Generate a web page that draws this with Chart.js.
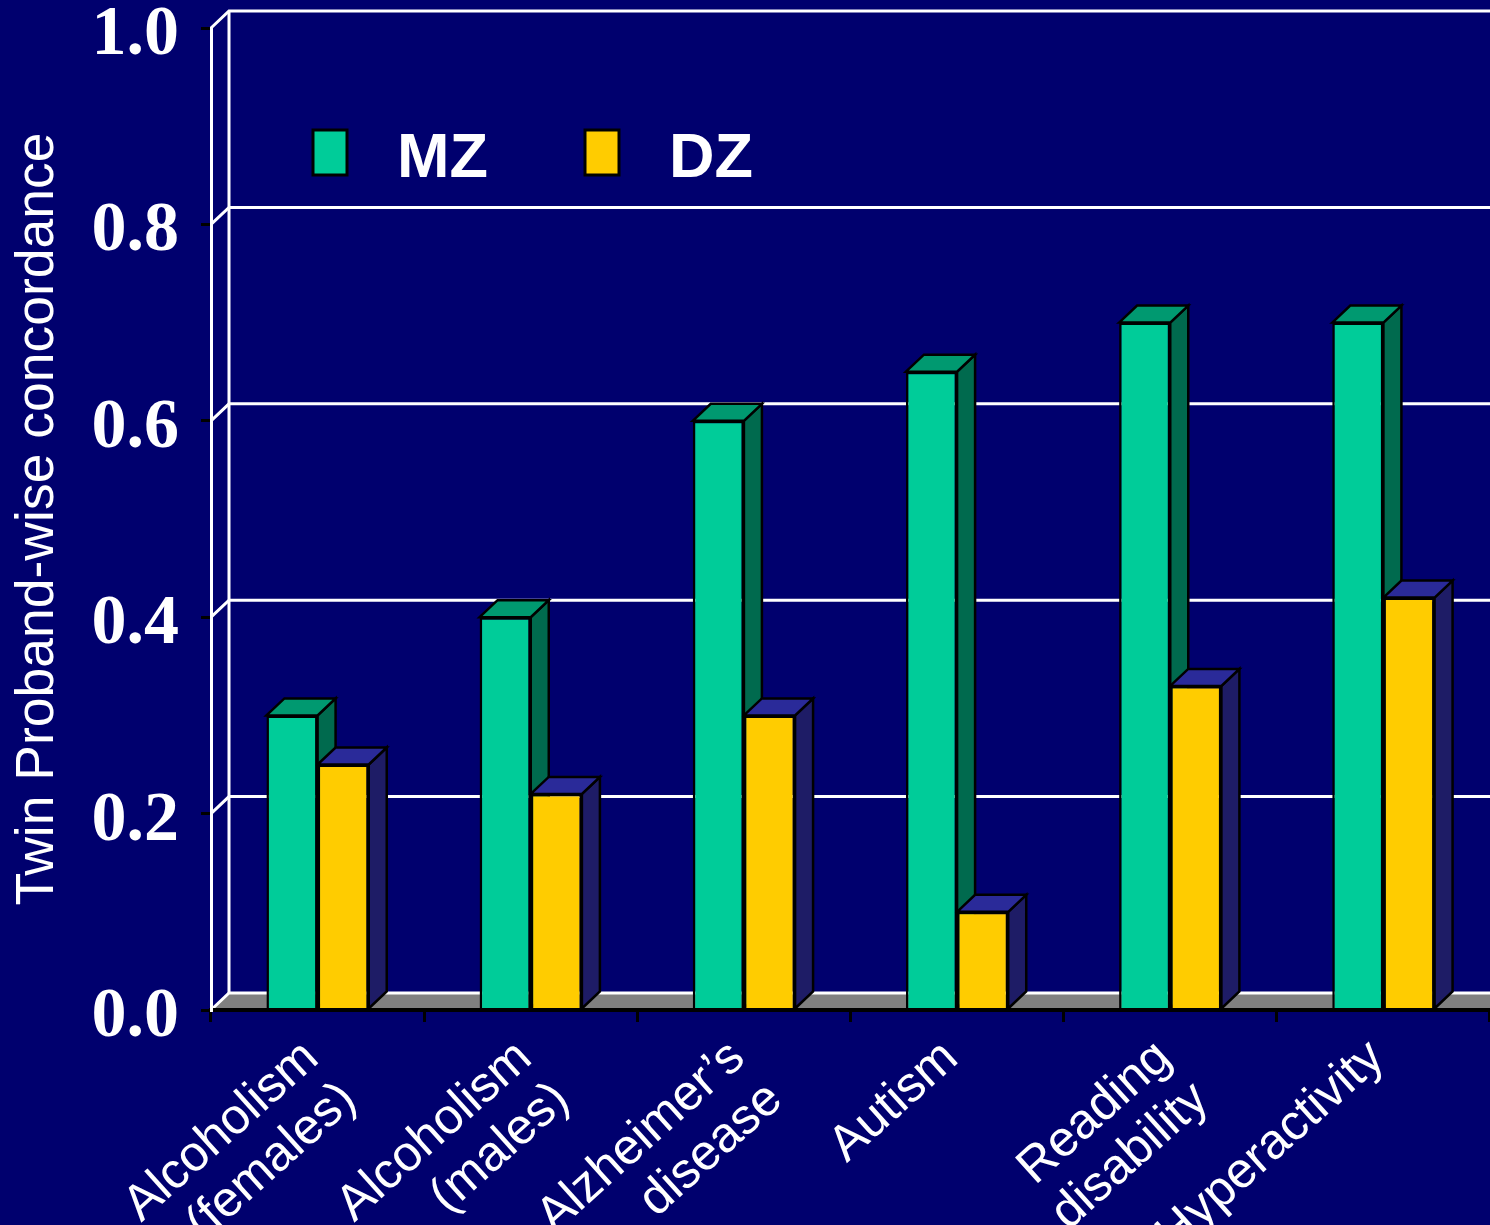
<!DOCTYPE html>
<html>
<head>
<meta charset="utf-8">
<script src="https://cdn.jsdelivr.net/npm/chart.js@4/dist/chart.umd.min.js"></script>
<style>
    html, body { margin: 0; padding: 0; background: #00006e; }
    #wrap { width: 1490px; height: 1225px; }
</style>
</head>
<body>
<div id="wrap"><canvas id="grafico"></canvas></div>
<script>
// dados
const categorias = [['Alcoholism', '(females)'], ['Alcoholism', '(males)'], ['Alzheimer’s', 'disease'], 'Autism', ['Reading', 'disability'], 'Hyperactivity'];
const valoresMZ = [0.30, 0.40, 0.60, 0.65, 0.70, 0.70];
const valoresDZ = [0.25, 0.22, 0.30, 0.10, 0.33, 0.42];
const ticksY = [0.0, 0.2, 0.4, 0.6, 0.8, 1.0];
const nomesSeries = ['MZ', 'DZ'];
const tituloY = 'Twin Proband-wise concordance';

const fundo = '#00006e';
const profX = 18, profY = -17;
const cores = {
    MZ: { frente: '#00cc99', topo: '#009970', lado: '#006a4e' },
    DZ: { frente: '#ffcc00', topo: '#2a2a99', lado: '#1e1c66' }
};

function poligono(ctx, pts, fill) {
    ctx.beginPath();
    ctx.moveTo(pts[0][0], pts[0][1]);
    for (let i = 1; i < pts.length; i++) ctx.lineTo(pts[i][0], pts[i][1]);
    ctx.closePath();
    ctx.fillStyle = fill;
    ctx.fill();
    ctx.stroke();
}

const cenario3d = {
    id: 'cenario3d',
    beforeDatasetsDraw(chart) {
        const ctx = chart.ctx;
        const { left, right, top, bottom } = chart.chartArea;
        const y = chart.scales.y;
        ctx.save();

        // piso cinza
        ctx.fillStyle = '#808080';
        ctx.beginPath();
        ctx.moveTo(left, bottom);
        ctx.lineTo(left + profX, bottom + profY);
        ctx.lineTo(right, bottom + profY);
        ctx.lineTo(right, bottom);
        ctx.closePath();
        ctx.fill();

        // parede do fundo e linhas de grade
        ctx.strokeStyle = '#ffffff';
        ctx.lineWidth = 3;
        ctx.beginPath();
        ctx.moveTo(left + profX, top + profY);
        ctx.lineTo(left + profX, bottom + profY);
        ctx.stroke();
        ticksY.forEach(v => {
            const py = y.getPixelForValue(v);
            ctx.beginPath();
            ctx.moveTo(left, py);
            ctx.lineTo(left + profX, py + profY);
            ctx.lineTo(right, py + profY);
            ctx.stroke();
        });

        // legenda
        ctx.lineWidth = 3;
        ctx.strokeStyle = '#000000';
        nomesSeries.forEach((nome, i) => {
            const lx = 313 + i * 272;
            ctx.fillStyle = cores[nome].frente;
            ctx.fillRect(lx, 130, 34, 45);
            ctx.strokeRect(lx, 130, 34, 45);
            ctx.fillStyle = '#ffffff';
            ctx.font = 'bold 63px "Liberation Sans", Arial, sans-serif';
            ctx.textAlign = 'left';
            ctx.textBaseline = 'alphabetic';
            ctx.fillText(nome, lx + 84, 177);
        });

        // topo e lateral das barras
        ctx.lineWidth = 2.5;
        ctx.lineJoin = 'miter';
        chart.data.datasets.forEach((ds, di) => {
            const c = cores[ds.label];
            chart.getDatasetMeta(di).data.forEach(bar => {
                const esq = bar.x - bar.width / 2;
                const dir = bar.x + bar.width / 2;
                poligono(ctx, [[dir, bar.y], [dir + profX, bar.y + profY], [dir + profX, bar.base + profY], [dir, bar.base]], c.lado);
                poligono(ctx, [[esq, bar.y], [esq + profX, bar.y + profY], [dir + profX, bar.y + profY], [dir, bar.y]], c.topo);
            });
        });
        ctx.restore();
    }
};

new Chart(document.getElementById('grafico'), {
    type: 'bar',
    data: {
        labels: categorias,
        datasets: [
            {
                label: nomesSeries[0],
                data: valoresMZ,
                backgroundColor: cores.MZ.frente,
                borderColor: '#000000',
                borderWidth: 2.5
            },
            {
                label: nomesSeries[1],
                data: valoresDZ,
                backgroundColor: cores.DZ.frente,
                borderColor: '#000000',
                borderWidth: 2.5
            }
        ]
    },
    options: {
        responsive: true,
        maintainAspectRatio: false,
        animation: false,
        datasets: { bar: { categoryPercentage: 0.48, barPercentage: 1.0 } },
        layout: { padding: { top: 28, left: 0, right: 0, bottom: 0 } },
        plugins: {
            legend: { display: false },
            tooltip: { enabled: false }
        },
        scales: {
            x: {
                offset: true,
                grid: { drawOnChartArea: false, drawTicks: true, tickLength: 12, color: '#000000', lineWidth: 3 },
                border: { display: true, color: '#000000', width: 4, z: 1 },
                ticks: {
                    color: '#ffffff',
                    font: { family: '"Liberation Sans", Arial, sans-serif', size: 50, lineHeight: 1.12 },
                    minRotation: 42,
                    maxRotation: 42,
                    autoSkip: false,
                    padding: 8,
                    labelOffset: -6
                },
                afterFit(scale) {
                    scale.height = 215;
                    scale.paddingLeft = 0;
                    scale.paddingRight = 0;
                }
            },
            y: {
                min: 0,
                max: 1,
                afterBuildTicks(scale) {
                    scale.ticks = ticksY.map(v => ({ value: v }));
                },
                grid: { drawOnChartArea: false, drawTicks: true, tickLength: 10, color: '#000000', lineWidth: 3 },
                border: { display: true, color: '#ffffff', width: 3, z: 1 },
                ticks: {
                    color: '#ffffff',
                    font: { family: '"Liberation Serif", "Times New Roman", serif', size: 70, weight: 'bold' },
                    padding: 22,
                    labelOffset: 8,
                    callback: v => Number(v).toFixed(1)
                },
                title: {
                    display: true,
                    text: tituloY,
                    color: '#ffffff',
                    font: { family: '"Liberation Sans", Arial, sans-serif', size: 53.5, lineHeight: 1.2 },
                    padding: { top: 6, bottom: 0 }
                },
                afterFit(scale) {
                    scale.width = 211;
                    scale.paddingTop = 0;
                    scale.paddingBottom = 0;
                }
            }
        }
    },
    plugins: [cenario3d]
});
</script>
</body>
</html>
